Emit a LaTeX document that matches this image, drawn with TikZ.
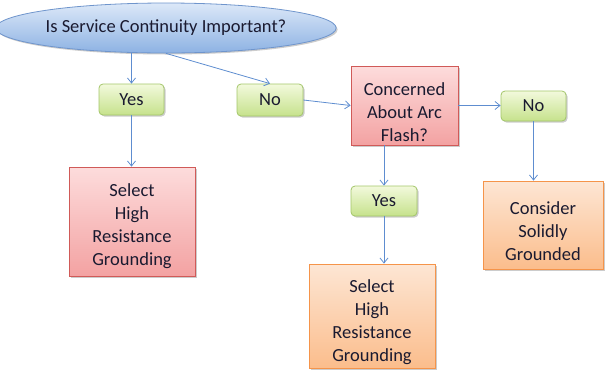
\documentclass[tikz,border=0pt]{standalone}
\usepackage{fontspec}
\setmainfont{Carlito}
\usetikzlibrary{shapes.geometric,arrows.meta,shadows}
\definecolor{txt}{HTML}{1A1A30}
\definecolor{arr}{HTML}{5E8DD0}
\definecolor{bluetop}{HTML}{DCE8F8}
\definecolor{bluebot}{HTML}{8DB2E3}
\definecolor{blueline}{HTML}{6F95CC}
\definecolor{greentop}{HTML}{F2F9DC}
\definecolor{greenbot}{HTML}{C6E28C}
\definecolor{greenline}{HTML}{A3C66A}
\definecolor{redtop}{HTML}{FDDCDC}
\definecolor{redbot}{HTML}{F3A2A2}
\definecolor{redline}{HTML}{D05A58}
\definecolor{orangetop}{HTML}{FDE6D4}
\definecolor{orangebot}{HTML}{FBBD8C}
\definecolor{orangeline}{HTML}{F5944A}
\newcommand{\lowtext}[2][5pt]{\raisebox{-#1}[\height][\depth]{\begin{tabular}{@{}c@{}}#2\end{tabular}}}
\tikzset{
  base/.style={font=\fontsize{18.5}{23}\selectfont, text=txt, align=center, inner sep=0pt,
    drop shadow={shadow xshift=1.5pt, shadow yshift=-1.5pt, fill=black, opacity=0.2}},
  question/.style={base, ellipse, draw=blueline, line width=0.8pt, top color=bluetop, bottom color=bluebot},
  answer/.style={base, rectangle, rounded corners=4pt, draw=greenline, line width=0.8pt, top color=greentop, bottom color=greenbot},
  redbox/.style={base, rectangle, draw=redline, line width=0.8pt, top color=redtop, bottom color=redbot},
  orangebox/.style={base, rectangle, draw=orangeline, line width=0.8pt, top color=orangetop, bottom color=orangebot},
  conn/.style={draw=arr, line width=0.8pt, -{Straight Barb[length=5pt,width=8pt]}}
}
\begin{document}
\begin{tikzpicture}[x=1pt,y=-1pt]
\useasboundingbox (0,0) rectangle (605,373);
\node[question, minimum width=312pt, minimum height=50pt] (ell) at (166,28) {\raisebox{-1.5pt}{Is Service Continuity Important?}};
\node[answer, minimum width=65pt, minimum height=31pt] (yes1) at (131.5,99.5) {Yes};
\node[answer, minimum width=66pt, minimum height=32pt] (no1) at (270,100) {No};
\node[redbox, minimum width=107pt, minimum height=79pt] (conc) at (404.5,105.5) {\lowtext[8pt]{Concerned\\About Arc\\Flash?}};
\node[answer, minimum width=65pt, minimum height=30pt] (no2) at (533.5,106) {No};
\node[orangebox, minimum width=120pt, minimum height=88pt] (cons) at (543,225) {\lowtext[8pt]{Consider\\Solidly\\Grounded}};
\node[answer, minimum width=66pt, minimum height=30pt] (yes2) at (384,201) {Yes};
\node[orangebox, minimum width=126pt, minimum height=104pt] (sel2) at (372,316) {\lowtext[6pt]{Select\\High\\Resistance\\Grounding}};
\node[redbox, minimum width=126pt, minimum height=109pt] (sel1) at (132,221.5) {\lowtext{Select\\High\\Resistance\\Grounding}};

\draw[conn] (yes1.north |- ell.south) -- (yes1.north);
\draw[conn] (ell.south) -- (no1.north);
\draw[conn] (yes1.south) -- (yes1.south |- sel1.north);
\draw[conn] (no1.east) -- (conc.west);
\draw[conn] (conc.east) -- (conc.east -| no2.west);
\draw[conn] (no2.south) -- (no2.south |- cons.north);
\draw[conn] (yes2.north |- conc.south) -- (yes2.north);
\draw[conn] (yes2.south) -- (yes2.south |- sel2.north);
\end{tikzpicture}
\end{document}
